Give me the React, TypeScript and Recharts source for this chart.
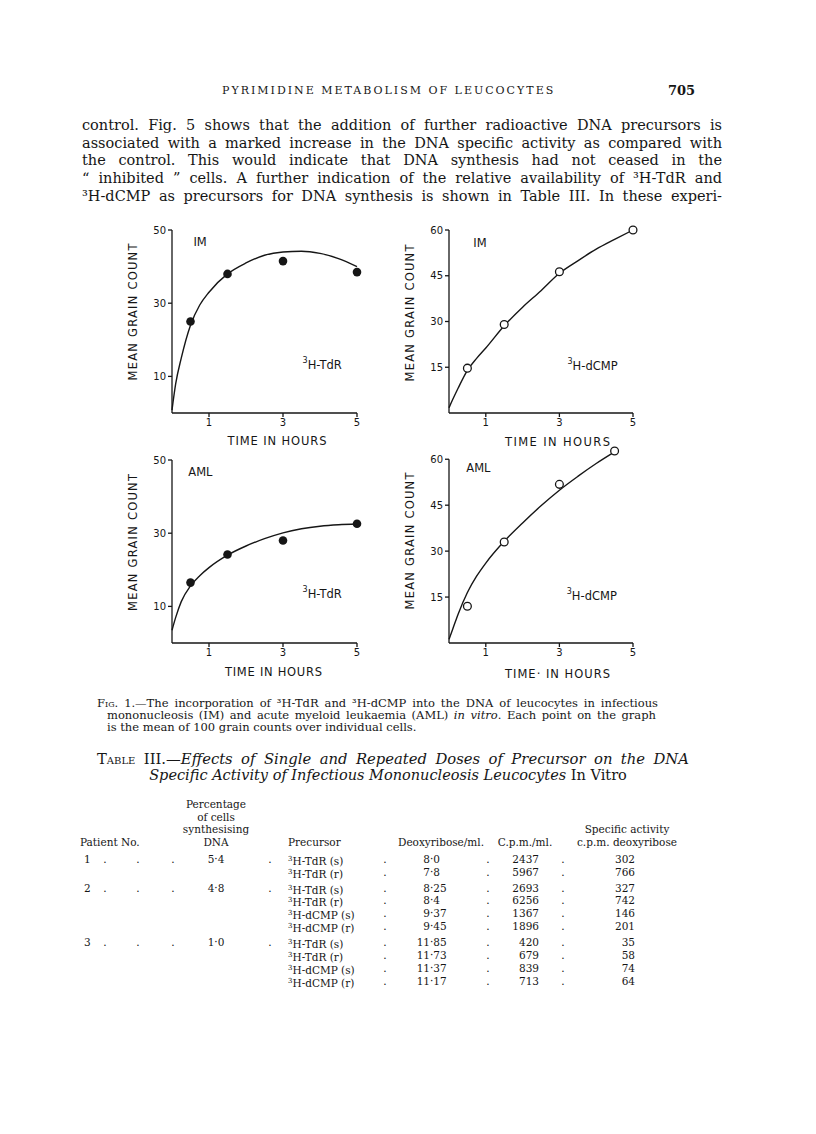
import React from 'react';
import { ComposedChart, Line, Scatter, XAxis, YAxis, ReferenceDot, ReferenceLine } from 'recharts';

// Fig. 1 — mean grain count against time (hours)
const pointHours = [0.5, 1.5, 3, 5];
const amlDcmpPointHours = [0.5, 1.5, 3, 4.5];
const imTdrPoints = [25, 38, 41.5, 38.5];
const imDcmpPoints = [14.7, 29, 46.3, 60];
const amlTdrPoints = [16.5, 24.2, 28, 32.6];
const amlDcmpPoints = [12, 33, 51.8, 62.7];

// fitted curves drawn through the points
const curveHours = [0, 0.1, 0.25, 0.5, 0.75, 1, 1.5, 2, 2.5, 3, 3.5, 4, 4.5, 5];
const amlDcmpCurveHours = [0, 0.1, 0.25, 0.5, 0.75, 1, 1.5, 2, 2.5, 3, 3.5, 4, 4.5];
const imTdrCurve = [0.8, 8, 15, 24, 29.5, 33, 38, 41, 43.1, 44, 44.2, 43.6, 42.2, 40];
const imDcmpCurve = [1.7, 4.4, 8.2, 14, 17.9, 21.3, 28.6, 34.7, 40.1, 45.8, 49.9, 53.7, 56.9, 60];
const amlTdrCurve = [3.5, 7, 11.3, 15.6, 18.4, 20.6, 24, 26.5, 28.5, 30.1, 31.2, 31.9, 32.3, 32.5];
const amlDcmpCurve = [1.2, 4.5, 9.5, 16.5, 21.8, 26.1, 33.2, 39.2, 44.8, 49.9, 54.4, 58.6, 62.4];

const hourTicks = [1, 3, 5];
const tdrTicks = [10, 30, 50];
const dcmpTicks = [15, 30, 45, 60];

// Table III
const patients = ['1', '2', '3'];
const patientFirstRow = [0, 2, 6];
const dnaPercent = ['5·4', '4·8', '1·0'];
const precursors = [
  'H-TdR (s)', 'H-TdR (r)', 'H-TdR (s)', 'H-TdR (r)', 'H-dCMP (s)',
  'H-dCMP (r)', 'H-TdR (s)', 'H-TdR (r)', 'H-dCMP (s)', 'H-dCMP (r)',
];
const deoxyribose = ['8·0', '7·8', '8·25', '8·4', '9·37', '9·45', '11·85', '11·73', '11·37', '11·17'];
const cpm = [2437, 5967, 2693, 6256, 1367, 1896, 420, 679, 839, 713];
const specificActivity = [302, 766, 327, 742, 146, 201, 35, 58, 74, 64];

const bodyLines = [
  'control. Fig. 5 shows that the addition of further radioactive DNA precursors is',
  'associated with a marked increase in the DNA specific activity as compared with',
  'the control. This would indicate that DNA synthesis had not ceased in the',
  '“ inhibited ” cells. A further indication of the relative availability of ³H-TdR and',
  '³H-dCMP as precursors for DNA synthesis is shown in Table III. In these experi-',
];

const ink = '#161616';
const chartFont = '"DejaVu Sans", sans-serif';
const serif = '"DejaVu Serif", serif';

const toRows = (hours: number[], values: number[]) => hours.map((t, i) => ({ t, v: values[i] }));

type PanelProps = {
  left: number;
  top: number;
  width: number;
  height: number;
  marginTop: number;
  yMax: number;
  yTicks: number[];
  axisTop?: number;
  points: { t: number; v: number }[];
  curve: { t: number; v: number }[];
  filled: boolean;
  group: string;
  groupAt: [number, number];
  isotope: string;
  isotopeAt: [number, number];
  xTitle: string;
  xTitleDx: number;
  xTitleDy: number;
  xTitleLen: number;
  yTitleDy: number;
};

function Panel(p: PanelProps) {
  const tick = { fontSize: 10, fill: ink, fontFamily: chartFont };
  const line = { stroke: ink, strokeWidth: 1.3 };

  const xTitle = (props: any) => {
    const vb = props.viewBox;
    return (
      <text
        x={vb.x + vb.width / 2 + p.xTitleDx}
        y={vb.y + p.xTitleDy}
        textAnchor="middle"
        dominantBaseline="central"
        fontSize={11.5}
        fontFamily={chartFont}
        fill={ink}
        textLength={p.xTitleLen}
        lengthAdjust="spacing"
      >
        {p.xTitle}
      </text>
    );
  };

  const yTitle = (props: any) => {
    const vb = props.viewBox;
    const cx = vb.x + vb.width - 39;
    const cy = vb.y + vb.height / 2 + p.yTitleDy;
    return (
      <text
        x={cx}
        y={cy}
        transform={`rotate(-90 ${cx} ${cy})`}
        textAnchor="middle"
        dominantBaseline="central"
        fontSize={11.5}
        fontFamily={chartFont}
        fill={ink}
        textLength={137}
        lengthAdjust="spacing"
      >
        MEAN GRAIN COUNT
      </text>
    );
  };

  const groupLabel = (props: any) => (
    <text x={props.viewBox.x} y={props.viewBox.y} dominantBaseline="central" fontSize={11.5} fontFamily={chartFont} fill={ink}>
      {p.group}
    </text>
  );

  const isotopeLabel = (props: any) => (
    <text x={props.viewBox.x} y={props.viewBox.y} dominantBaseline="central" fontSize={11.5} fontFamily={chartFont} fill={ink}>
      <tspan fontSize={8} dy={-5}>3</tspan>
      <tspan dy={5}>{p.isotope}</tspan>
    </text>
  );

  const dot = (s: any) =>
    p.filled ? (
      <circle cx={s.cx} cy={s.cy} r={4.3} fill={ink} />
    ) : (
      <circle cx={s.cx} cy={s.cy} r={3.9} fill="#fff" stroke={ink} strokeWidth={1.3} />
    );

  return (
    <div style={{ position: 'absolute', left: p.left, top: p.top }}>
      <ComposedChart width={p.width} height={p.height} margin={{ top: p.marginTop, right: 10, bottom: 0, left: 0 }}>
        <XAxis
          type="number"
          dataKey="t"
          domain={[0, 5]}
          ticks={hourTicks}
          height={40}
          tickSize={4}
          tick={tick}
          axisLine={line}
          tickLine={line}
          label={xTitle}
        />
        <YAxis
          type="number"
          dataKey="v"
          domain={[0, p.yMax]}
          ticks={p.yTicks}
          width={72}
          tickSize={4}
          tick={tick}
          axisLine={p.axisTop === undefined ? line : false}
          tickLine={line}
          label={yTitle}
        />
        {p.axisTop !== undefined && (
          <ReferenceLine segment={[{ x: 0, y: 0 }, { x: 0, y: p.axisTop }]} stroke={ink} strokeWidth={1.3} />
        )}
        <Line data={p.curve} dataKey="v" type="monotone" stroke={ink} strokeWidth={1.4} dot={false} isAnimationActive={false} />
        <Scatter data={p.points} dataKey="v" shape={dot} isAnimationActive={false} />
        <ReferenceDot x={p.groupAt[0]} y={p.groupAt[1]} r={0} label={groupLabel} />
        <ReferenceDot x={p.isotopeAt[0]} y={p.isotopeAt[1]} r={0} label={isotopeLabel} />
      </ComposedChart>
    </div>
  );
}

function Cell({ x, y, align, children }: { x: number; y: number; align: 'left' | 'right' | 'center'; children: React.ReactNode }) {
  const style: React.CSSProperties = { position: 'absolute', top: y - 7, fontSize: 10.5, lineHeight: '13px', whiteSpace: 'nowrap' };
  if (align === 'left') style.left = x;
  else if (align === 'right') style.right = 816 - x;
  else {
    style.left = x;
    style.transform = 'translateX(-50%)';
  }
  return <div style={style}>{children}</div>;
}

const rowY = (i: number) => 860 + i * 12.9 + (i >= 6 ? 5.4 : i >= 2 ? 2.7 : 0);

export default function App() {
  const justified: React.CSSProperties = { position: 'absolute', textAlign: 'justify', textAlignLast: 'justify' };

  return (
    <div style={{ position: 'absolute', left: 0, top: 0, width: 816, height: 1134, background: '#fff', color: ink, fontFamily: serif, overflow: 'hidden' }}>
      <div style={{ position: 'absolute', left: 222, top: 84, fontSize: 11, lineHeight: '14px', letterSpacing: 2, whiteSpace: 'nowrap' }}>
        PYRIMIDINE METABOLISM OF LEUCOCYTES
      </div>
      <div style={{ position: 'absolute', left: 668, top: 83, fontSize: 13, lineHeight: '16px', fontWeight: 'bold' }}>705</div>

      {bodyLines.map((text, i) => (
        <div key={i} style={{ ...justified, left: 82, top: 117 + i * 17.7, width: 640, fontSize: 14.5, lineHeight: '17.7px' }}>
          {text}
        </div>
      ))}

      <Panel
        left={100} top={220} width={267} height={233} marginTop={10}
        yMax={50} yTicks={tdrTicks}
        points={toRows(pointHours, imTdrPoints)} curve={toRows(curveHours, imTdrCurve)} filled
        group="IM" groupAt={[0.58, 46.7]} isotope="H-TdR" isotopeAt={[3.53, 13.1]}
        xTitle="TIME IN HOURS" xTitleDx={12.5} xTitleDy={28} xTitleLen={99} yTitleDy={-9.5}
      />
      <Panel
        left={377} top={220} width={266} height={233} marginTop={10}
        yMax={60} yTicks={dcmpTicks}
        points={toRows(pointHours, imDcmpPoints)} curve={toRows(curveHours, imDcmpCurve)} filled={false}
        group="IM" groupAt={[0.66, 55.7]} isotope="H-dCMP" isotopeAt={[3.22, 15.3]}
        xTitle="TIME IN HOURS" xTitleDx={16.5} xTitleDy={28.5} xTitleLen={105} yTitleDy={-8.5}
      />
      <Panel
        left={100} top={450} width={267} height={233} marginTop={10}
        yMax={50} yTicks={tdrTicks}
        points={toRows(pointHours, amlTdrPoints)} curve={toRows(curveHours, amlTdrCurve)} filled
        group="AML" groupAt={[0.44, 46.7]} isotope="H-TdR" isotopeAt={[3.53, 13.4]}
        xTitle="TIME IN HOURS" xTitleDx={9} xTitleDy={29} xTitleLen={97} yTitleDy={-9}
      />
      <Panel
        left={377} top={430} width={266} height={253} marginTop={17}
        yMax={64} yTicks={dcmpTicks} axisTop={60}
        points={toRows(amlDcmpPointHours, amlDcmpPoints)} curve={toRows(amlDcmpCurveHours, amlDcmpCurve)} filled={false}
        group="AML" groupAt={[0.47, 57]} isotope="H-dCMP" isotopeAt={[3.2, 15.2]}
        xTitle="TIME· IN HOURS" xTitleDx={16.5} xTitleDy={31} xTitleLen={105} yTitleDy={-4}
      />

      <div style={{ ...justified, left: 97, top: 697, width: 561, fontSize: 11.5, lineHeight: '12px' }}>
        <span style={{ fontVariant: 'small-caps' }}>Fig.</span> 1.—The incorporation of ³H-TdR and ³H-dCMP into the DNA of leucocytes in infectious
      </div>
      <div style={{ ...justified, left: 107, top: 709, width: 549, fontSize: 11.5, lineHeight: '12px' }}>
        mononucleosis (IM) and acute myeloid leukaemia (AML) <i>in vitro</i>. Each point on the graph
      </div>
      <div style={{ position: 'absolute', left: 107, top: 721, fontSize: 11.5, lineHeight: '12px', whiteSpace: 'nowrap' }}>
        is the mean of 100 grain counts over individual cells.
      </div>

      <div style={{ ...justified, left: 97, top: 750, width: 592, fontSize: 14.8, lineHeight: '17px' }}>
        <span style={{ fontVariant: 'small-caps' }}>Table</span> III.—<i>Effects of Single and Repeated Doses of Precursor on the DNA</i>
      </div>
      <div style={{ position: 'absolute', left: 388, top: 767, transform: 'translateX(-50%)', fontSize: 14.5, lineHeight: '17px', whiteSpace: 'nowrap' }}>
        <i>Specific Activity of Infectious Mononucleosis Leucocytes</i> In Vitro
      </div>

      <Cell x={216} y={805} align="center">Percentage</Cell>
      <Cell x={216} y={817.7} align="center">of cells</Cell>
      <Cell x={216} y={830.4} align="center">synthesising</Cell>
      <Cell x={216} y={843} align="center">DNA</Cell>
      <Cell x={80} y={843} align="left">Patient No.</Cell>
      <Cell x={288} y={843} align="left">Precursor</Cell>
      <Cell x={441} y={843} align="center">Deoxyribose/ml.</Cell>
      <Cell x={525} y={843} align="center">C.p.m./ml.</Cell>
      <Cell x={627} y={830.4} align="center">Specific activity</Cell>
      <Cell x={627} y={843} align="center">c.p.m. deoxyribose</Cell>

      {patients.map((n, k) => {
        const y = rowY(patientFirstRow[k]);
        return (
          <React.Fragment key={n}>
            <Cell x={84} y={y} align="left">{n}</Cell>
            <Cell x={105} y={y} align="center">.</Cell>
            <Cell x={138} y={y} align="center">.</Cell>
            <Cell x={173} y={y} align="center">.</Cell>
            <Cell x={216} y={y} align="center">{dnaPercent[k]}</Cell>
            <Cell x={270} y={y} align="center">.</Cell>
          </React.Fragment>
        );
      })}

      {precursors.map((pre, i) => {
        const y = rowY(i);
        const [whole, frac] = deoxyribose[i].split('·');
        return (
          <React.Fragment key={i}>
            <Cell x={288} y={y} align="left">
              <sup style={{ fontSize: 7, verticalAlign: 4 }}>3</sup>
              {pre}
            </Cell>
            <Cell x={385} y={y} align="center">.</Cell>
            <Cell x={430} y={y} align="right">{whole}</Cell>
            <Cell x={430} y={y} align="left">·{frac}</Cell>
            <Cell x={488} y={y} align="center">.</Cell>
            <Cell x={539} y={y} align="right">{cpm[i]}</Cell>
            <Cell x={563} y={y} align="center">.</Cell>
            <Cell x={635} y={y} align="right">{specificActivity[i]}</Cell>
          </React.Fragment>
        );
      })}
    </div>
  );
}
